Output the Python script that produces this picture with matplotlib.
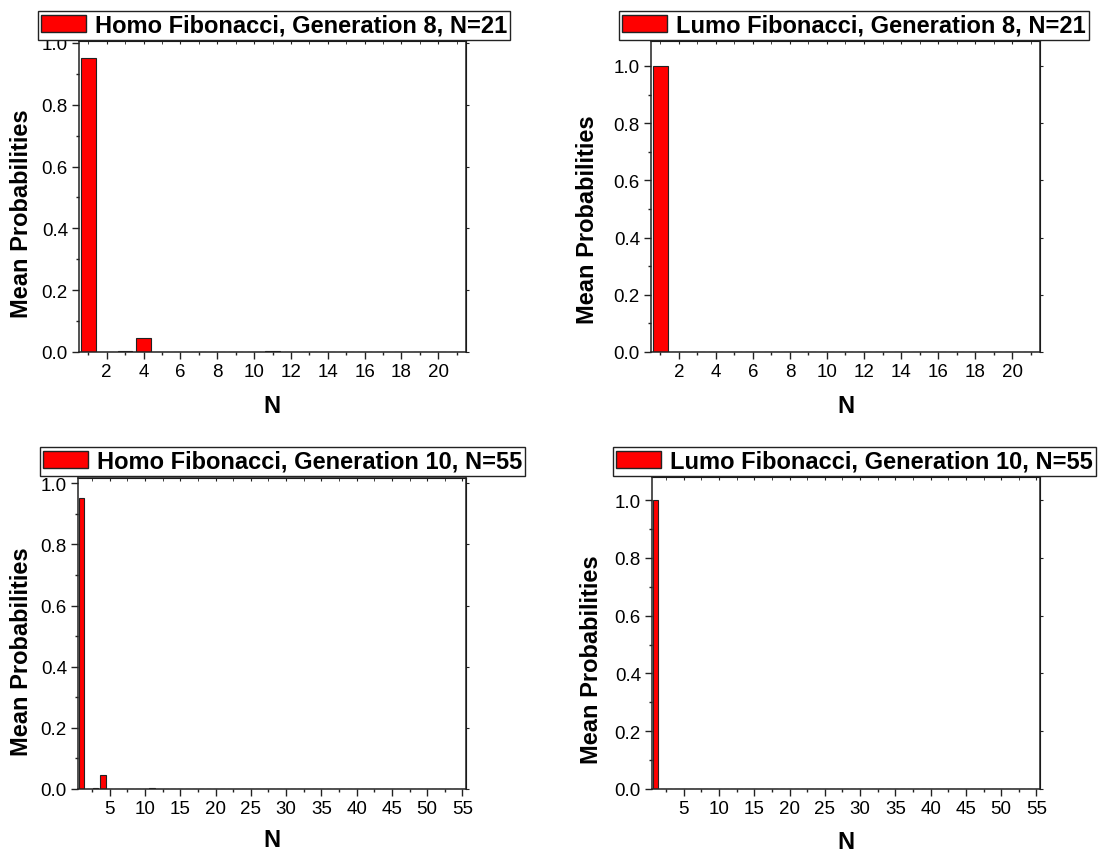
import matplotlib
matplotlib.use("Agg")
import matplotlib.pyplot as plt
from matplotlib.ticker import MultipleLocator
from matplotlib.patches import Patch

plt.rcParams['font.family'] = ['Liberation Sans', 'DejaVu Sans']

# mean probabilities per site N
homo_g8 = [0.95, 0.001, 0.004, 0.045, 0.0, 0.0, 0.0, 0.0, 0.0, 0.0,
           0.002, 0.0, 0.0, 0.0, 0.0, 0.0, 0.0, 0.0, 0.0, 0.0, 0.0]
lumo_g8 = [1.0, 0.0, 0.0, 0.0, 0.0, 0.0, 0.0, 0.0, 0.0, 0.0,
           0.0, 0.0, 0.0, 0.0, 0.0, 0.0, 0.0, 0.0, 0.0, 0.0, 0.0]
homo_g10 = [0.95, 0.001, 0.004, 0.045, 0.0, 0.0, 0.0, 0.0, 0.0, 0.0,
            0.002, 0.0, 0.0, 0.0, 0.0, 0.0, 0.0, 0.0, 0.0, 0.0,
            0.0, 0.0, 0.0, 0.0, 0.0, 0.0, 0.0, 0.0, 0.0, 0.0,
            0.0, 0.0, 0.0, 0.0, 0.0, 0.0, 0.0, 0.0, 0.0, 0.0,
            0.0, 0.0, 0.0, 0.0, 0.0, 0.0, 0.0, 0.0, 0.0, 0.0,
            0.0, 0.0, 0.0, 0.0, 0.0]
lumo_g10 = [1.0, 0.0, 0.0, 0.0, 0.0, 0.0, 0.0, 0.0, 0.0, 0.0,
            0.0, 0.0, 0.0, 0.0, 0.0, 0.0, 0.0, 0.0, 0.0, 0.0,
            0.0, 0.0, 0.0, 0.0, 0.0, 0.0, 0.0, 0.0, 0.0, 0.0,
            0.0, 0.0, 0.0, 0.0, 0.0, 0.0, 0.0, 0.0, 0.0, 0.0,
            0.0, 0.0, 0.0, 0.0, 0.0, 0.0, 0.0, 0.0, 0.0, 0.0,
            0.0, 0.0, 0.0, 0.0, 0.0]

titles = ["Homo Fibonacci, Generation 8, N=21",
          "Lumo Fibonacci, Generation 8, N=21",
          "Homo Fibonacci, Generation 10, N=55",
          "Lumo Fibonacci, Generation 10, N=55"]

W, H = 1103, 854
fig = plt.figure(figsize=(W / 100, H / 100), dpi=100)

# (data, axes box in px: left, top, right, bottom, y top, x major, legend box left/top,
#  ylabel x/y, xlabel x/y)
panels = [
    (homo_g8, (79, 42, 466, 353), 1.006, 2, (38, 12), (22, 214), (272, 407)),
    (lumo_g8, (651, 42, 1040, 353), 1.087, 2, (619, 12), (587, 220), (846, 407)),
    (homo_g10, (78, 479, 466, 790), 1.017, 5, (40, 448), (22, 652), (272, 841)),
    (lumo_g10, (652, 478, 1040, 790), 1.08, 5, (613, 448), (591, 660), (846, 843)),
]

for (vals, box, ytop, xmaj, leg, ylab, xlab), title in zip(panels, titles):
    l, t, r, b = box
    ax = fig.add_axes([l / W, 1 - b / H, (r - l) / W, (b - t) / H])
    n = list(range(1, len(vals) + 1))
    ax.bar(n, vals, width=0.8, color='#ff0000', edgecolor='#222222', linewidth=0.8)
    ax.set_xlim(0.5, len(vals) + 0.5)
    ax.set_ylim(0, ytop)
    ax.xaxis.set_major_locator(MultipleLocator(xmaj))
    ax.xaxis.set_minor_locator(MultipleLocator(xmaj / 2))
    ax.yaxis.set_major_locator(MultipleLocator(0.2))
    ax.yaxis.set_minor_locator(MultipleLocator(0.1))
    ax.xaxis.set_major_formatter(lambda v, p: '' if v <= 0 else f'{v:g}')
    ax.yaxis.set_major_formatter(lambda v, p: f'{v:.1f}')
    ax.tick_params(which='major', direction='out', length=5, width=1, labelsize=13.5,
                   pad=3, color='#222222')
    ax.tick_params(which='minor', direction='out', length=2.5, width=1, color='#222222')
    for s in ax.spines.values():
        s.set_linewidth(1.1)
        s.set_color('#222222')

    # top axis ticks point inward, right axis ticks small outward
    top = ax.secondary_xaxis('top')
    top.xaxis.set_major_locator(MultipleLocator(xmaj))
    top.xaxis.set_minor_locator(MultipleLocator(xmaj / 2))
    top.tick_params(which='both', direction='in', length=2.5, labeltop=False, color='#222222')
    right = ax.secondary_yaxis('right')
    right.yaxis.set_major_locator(MultipleLocator(0.2))
    right.yaxis.set_minor_locator(MultipleLocator(0.1))
    right.tick_params(which='major', direction='out', length=2.5, labelright=False, color='#222222')
    right.tick_params(which='minor', length=0)

    handle = Patch(facecolor='#ff0000', edgecolor='#222222', linewidth=1)
    lg = ax.legend([handle], [title], loc='upper left',
                   bbox_to_anchor=(leg[0] / W, 1 - leg[1] / H),
                   bbox_transform=fig.transFigure, borderaxespad=0,
                   prop={'weight': 'bold', 'size': 17}, fancybox=False,
                   framealpha=1, edgecolor='#222222', borderpad=0.12,
                   handlelength=1.9, handleheight=0.75, handletextpad=0.4)
    lg.get_frame().set_linewidth(1)

    fig.text(ylab[0] / W, 1 - ylab[1] / H, 'Mean Probabilities', rotation=90,
             ha='center', va='center', fontsize=17, fontweight='bold')
    fig.text(xlab[0] / W, 1 - xlab[1] / H, 'N', ha='center', va='center',
             fontsize=17, fontweight='bold')

fig.savefig('out.png', dpi=100)
